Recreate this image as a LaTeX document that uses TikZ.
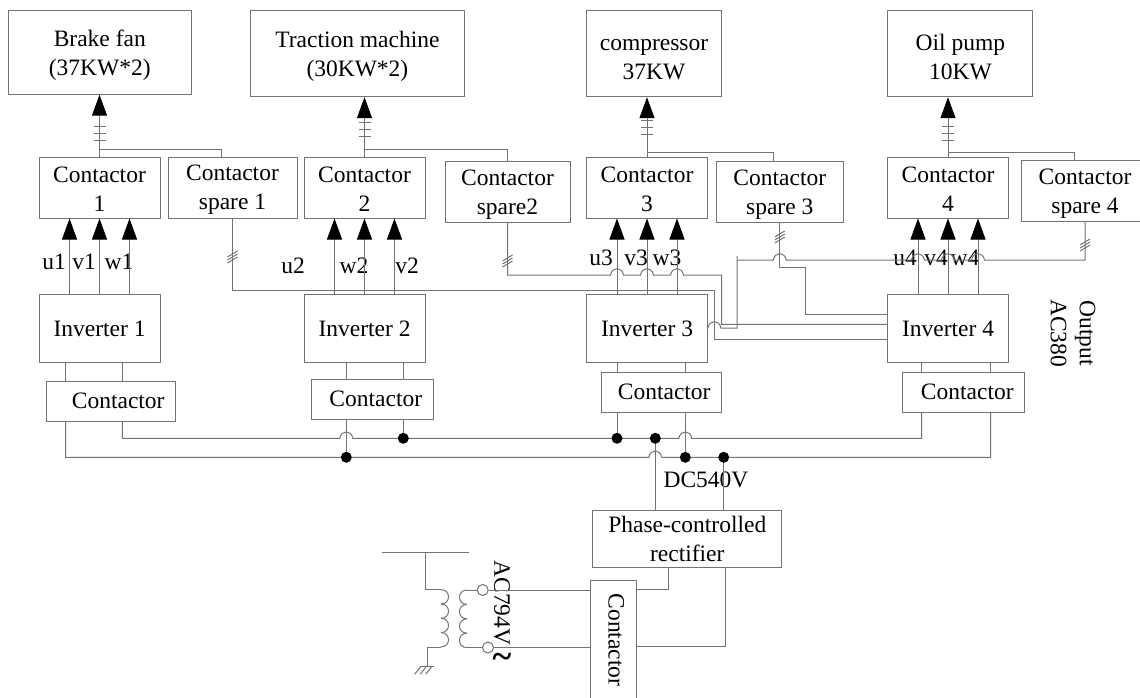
\documentclass[tikz,border=0pt]{standalone}
\usepackage{graphicx}
\usepackage{fontspec}
\setmainfont{Liberation Serif}
\usepackage{tikz}
\usetikzlibrary{calc,arrows.meta}

\newcommand{\hop}[2]{-- ({#1-6.5},#2) .. controls ({#1-5},{#2-8.5}) and ({#1+5},{#2-8.5}) .. ({#1+6.5},#2)}
\newcommand{\slashes}[1]{\foreach \s in {-3,0,3} {\draw[wire] ($(#1)+(-5,{\s+3})$) -- ($(#1)+(5,{\s-3})$);}}
\newcommand{\dn}[1]{\rule{0pt}{#1pt}}

\begin{document}
\begin{tikzpicture}[x=1pt,y=-1pt]
\tikzset{every node/.style = {font=\fontsize{23.5}{29}\selectfont,inner sep=0}}
\tikzset{box/.style = {shape=rectangle,draw=black!55,line width=1pt,align=center}}
\tikzset{conbox/.style = {box,minimum width=121,minimum height=61}}
\tikzset{sparebox/.style = {box,minimum height=61}}
\tikzset{invbox/.style = {box,minimum width=121,minimum height=68}}
\tikzset{lowbox/.style = {box,minimum height=40}}
\tikzset{topbox/.style = {box,minimum height=84}}
\tikzset{wire/.style = {draw=black!55,line width=1pt}}
\tikzset{edge/.style = {wire,-{Triangle[length=21pt,width=15pt,color=black]}}}
\tikzset{dot/.style = {shape=circle,fill=black,minimum size=11}}
\tikzset{term/.style = {shape=circle,draw=black!55,line width=1pt,minimum size=11}}
\useasboundingbox (0,0) rectangle (1140,698);
% loads
\node[topbox,minimum width=182.4] (fan) at (99.8,52.2) {\dn{23}Brake fan\\(37KW*2)};
\node[topbox,minimum width=213.3,minimum height=86.4] (trac) at (357.4,53.5) {\dn{23}Traction machine\\(30KW*2)};
\node[topbox,minimum width=135.3,minimum height=86.7] (comp) at (654,53.4) {\dn{24}compressor\\37KW};
\node[topbox,minimum width=145,minimum height=86.7] (pump) at (960.4,53.4) {\dn{24}Oil pump\\10KW};
% contactors
\node[conbox] (con1) at (99.5,187.5) {\dn{19}Contactor\\1};
\node[sparebox,minimum width=129] (sp1) at (232.5,187.5) {\dn{21}Contactor\\spare 1};
\node[conbox] (con2) at (364.5,187.5) {\dn{19}Contactor\\2};
\node[sparebox,minimum width=125] (sp2) at (507.5,191.5) {\dn{23}Contactor\\spare2};
\node[conbox] (con3) at (647,187.5) {\dn{19}Contactor\\3};
\node[sparebox,minimum width=127] (sp3) at (779.75,191.5) {\dn{23}Contactor\\spare 3};
\node[conbox] (con4) at (948,187.5) {\dn{19}Contactor\\4};
\node[sparebox,minimum width=128] (sp4) at (1085,190.5) {\dn{23}Contactor\\spare 4};
% inverters
\node[invbox] (inv1) at (99.5,328) {\dn{18}Inverter 1};
\node[invbox] (inv2) at (364.5,328) {\dn{18}Inverter 2};
\node[invbox] (inv3) at (647,328) {\dn{18}Inverter 3};
\node[invbox] (inv4) at (948,328) {\dn{18}Inverter 4};
% lower contactors
\node[lowbox,minimum width=129] (cb1) at (111.2,401) {\hspace*{14pt}Contactor};
\node[lowbox,minimum width=121.7] (cb2) at (372.8,399) {\hspace*{6pt}Contactor};
\node[lowbox,minimum width=120] (cb3) at (661.7,392) {\hspace*{5pt}Contactor};
\node[lowbox,minimum width=122.3] (cb4) at (963.8,392) {\hspace*{7pt}Contactor};
\node[box,minimum width=189.3,minimum height=57] (rect) at (687.3,538.5) {Phase-controlled\\rectifier};
\node[box,minimum width=45.7,minimum height=120] (cbr) at (613.8,640) {\hspace*{5pt}\rotatebox{-90}{Contactor}};
% texts
\node (u1) at (54,262) {u1};
\node (v1) at (84,262) {v1};
\node (w1) at (119,262) {w1};
\node (u2) at (293,266) {u2};
\node (w2) at (354,266) {w2};
\node (v2) at (407,266) {v2};
\node (u3) at (601,258) {u3};
\node (v3) at (636,258) {v3};
\node (w3) at (667,258) {w3};
\node (u4) at (905,258) {u4};
\node (v4) at (936,258) {v4};
\node (w4) at (965,258) {w4};
\node[rotate=-90,align=center] (out) at (1073,333) {Output\\AC380};
\node (dc) at (706,480) {DC540V};
\node[rotate=-90] (ac) at (502,603) {AC794V};
\node (sq) at (502,661) {\fontsize{36}{36}\selectfont\textbf{\char"7E}};
% inverter to contactor
\foreach \n in {1,2,3,4}
\foreach \dx in {-30,0,30}
\draw[edge] ($(inv\n.north)+(\dx,0)$) -- ($(con\n.south)+(\dx,0)$);
% contactor to load
\draw[edge] (con1.north) -- (con1.north |- fan.south);
\draw[edge] (con2.north) -- (con2.north |- trac.south);
\draw[edge] (con3.north) -- (con3.north |- comp.south);
\draw[edge] (con4.north) -- (con4.north |- pump.south);
\foreach \n/\off in {1/0,2/-4,3/-6,4/0}
\foreach \dy in {-30.3,-23,-16.3}
\draw[wire] ($(con\n.north)+(-6,\dy+\off)$) -- ($(con\n.north)+(6,\dy+\off)$);
% spare branches
\coordinate (br1) at (221.3,149.3);
\coordinate (br2) at (507.5,149.7);
\coordinate (br3) at (773.5,152.7);
\coordinate (br4) at (1074,152);
\draw[wire] (con1.north |- br1) -- (br1) -- (sp1.north -| br1);
\draw[wire] (con2.north |- br2) -- (br2) -- (sp2.north -| br2);
\draw[wire] (con3.north |- br3) -- (br3) -- (sp3.north -| br3);
\draw[wire] (con4.north |- br4) -- (br4) -- (sp4.north -| br4);
% spare returns
\coordinate (s1a) at (232.5,290.7);
\coordinate (s1b) at (714.4,290.7);
\coordinate (s1c) at (714.4,339.3);
\coordinate (s2a) at (507.5,275);
\coordinate (s2b) at (721.7,275);
\coordinate (s2c) at (721.7,324.3);
\coordinate (s3a) at (779.75,267.3);
\coordinate (s3b) at (805.5,267.3);
\coordinate (s3c) at (805.5,314);
\coordinate (s4a) at (1085,260);
\coordinate (s4b) at (737,256);
\coordinate (s4c) at (737,328);
\draw[wire] (sp1.south) -- (s1a) -- (s1b) -- (s1c) -- (s1c -| inv4.west);
\draw[wire] (sp2.south) -- (s2a) \hop{617}{275} \hop{647}{275} \hop{677}{275} -- (s2b) -- (s2c) -- (s2c -| inv4.west);
\draw[wire] (sp3.south) -- (s3a) -- (s3b) -- (s3c) -- (s3c -| inv4.west);
\draw[wire] (s4c -| inv3.east) \hop{714.4}{328} -- (s4c) -- (s4b);
\draw[wire] (s4b |- s4a) \hop{779.75}{260} \hop{918}{260} \hop{948}{260} \hop{978}{260} -- (s4a) -- (sp4.south);
\coordinate (t1) at (232.5,257);
\coordinate (t2) at (507.5,261);
\coordinate (t3) at (779.75,237);
\coordinate (t4) at (1085,245);
\slashes{t1}
\slashes{t2}
\slashes{t3}
\slashes{t4}
% DC buses
\coordinate (lo1) at (65.7,457.3);
\coordinate (lo5) at (990.7,457.3);
\coordinate (up1) at (122.3,438.3);
\coordinate (up5) at (921.7,438.3);
\coordinate (j1) at (346.3,457.3);
\coordinate (j2) at (403.3,438.3);
\coordinate (j3) at (617,438.3);
\coordinate (j4) at (655.3,438.3);
\coordinate (j5) at (685.3,457.3);
\coordinate (j6) at (723.7,457.3);
\draw[wire] (inv1.south -| lo1) -- (cb1.north -| lo1);
\draw[wire] (inv1.south -| up1) -- (cb1.north -| up1);
\draw[wire] (inv2.south -| j1) -- (cb2.north -| j1);
\draw[wire] (inv2.south -| j2) -- (cb2.north -| j2);
\draw[wire] (inv3.south -| j3) -- (cb3.north -| j3);
\draw[wire] (inv3.south -| j5) -- (cb3.north -| j5);
\draw[wire] (inv4.south -| up5) -- (cb4.north -| up5);
\draw[wire] (inv4.south -| lo5) -- (cb4.north -| lo5);
\draw[wire] (cb1.south -| up1) -- (up1) \hop{346.3}{438.3} \hop{685.3}{438.3} -- (up5) -- (cb4.south -| up5);
\draw[wire] (cb1.south -| lo1) -- (lo1) \hop{655.3}{457.3} -- (lo5) -- (cb4.south -| lo5);
\draw[wire] (cb2.south -| j1) -- (j1);
\draw[wire] (cb2.south -| j2) -- (j2);
\draw[wire] (cb3.south -| j3) -- (j3);
\draw[wire] (cb3.south -| j5) -- (j5);
\draw[wire] (j4) -- (rect.north -| j4);
\draw[wire] (j6) -- (rect.north -| j6);
\node[dot] (d1) at (j1) {};
\node[dot] (d2) at (j2) {};
\node[dot] (d3) at (j3) {};
\node[dot] (d4) at (j4) {};
\node[dot] (d5) at (j5) {};
\node[dot] (d6) at (j6) {};
% rectifier to contactor
\coordinate (rc1) at (668,589.7);
\coordinate (rc2) at (725,646.7);
\draw[wire] (rect.south -| rc1) -- (rc1) -- (rc1 -| cbr.east);
\draw[wire] (rect.south -| rc2) -- (rc2) -- (rc2 -| cbr.east);
% transformer
\node[term] (tm1) at (482.7,590) {};
\node[term] (tm2) at (488,647.5) {};
\draw[wire] (tm1) -- (tm1 -| cbr.west);
\draw[wire] (tm2) -- (tm2 -| cbr.west);
\coordinate (bar1) at (382,552);
\coordinate (bar2) at (469,552);
\coordinate (pri1) at (425.7,589.7);
\coordinate (pri2) at (441,589.7);
\coordinate (pri3) at (441,647);
\coordinate (gnd1) at (427.7,647);
\coordinate (gnd2) at (427.7,666.7);
\coordinate (sec1) at (467,590);
\coordinate (sec2) at (467,647.5);
\draw[wire] (bar1) -- (bar2);
\draw[wire] (pri1 |- bar1) -- (pri1) -- (pri2);
\draw[wire] (pri3) -- (gnd1) -- (gnd2);
\draw[wire] (tm1) -- (sec1);
\draw[wire] (tm2) -- (sec2);
\foreach \k in {0,1,2,3} {
\draw[wire] ({441},{589.7+14.3*\k}) .. controls ({451},{589.7+14.3*\k}) and ({451},{604+14.3*\k}) .. ({441},{604+14.3*\k});
\draw[wire] ({467},{590+14.4*\k}) .. controls ({457},{590+14.4*\k}) and ({457},{604.4+14.4*\k}) .. ({467},{604.4+14.4*\k});
}
\draw[wire] ($(gnd2)+(-7.5,0)$) -- ($(gnd2)+(6.5,0)$);
\foreach \g in {-7,-1.5,4}
\draw[wire] ($(gnd2)+(\g,0)$) -- ($(gnd2)+(\g-6,7.5)$);
\end{tikzpicture}
\end{document}
